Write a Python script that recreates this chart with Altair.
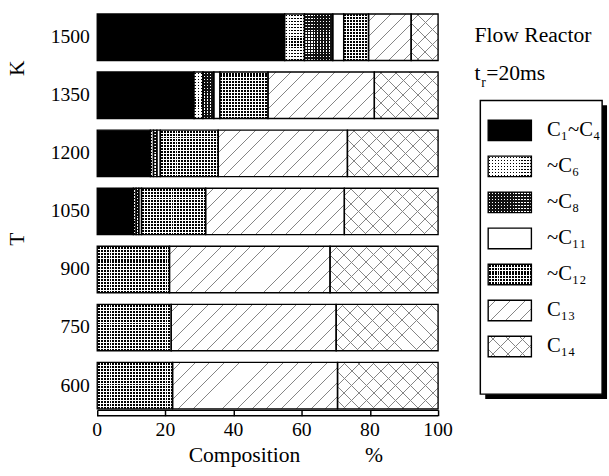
import altair as alt

# ---------------- data ----------------
temps = ["1500", "1350", "1200", "1050", "900", "750", "600"]
series = ["C₁~C₄", "~C₆", "~C₈", "~C₁₁", "~C₁₂", "C₁₃", "C₁₄"]
c1_c4 = [55.0, 28.4, 15.6, 10.6, 0.0, 0.0, 0.0]
c6 = [5.8, 2.6, 0.9, 0.8, 0.0, 0.0, 0.0]
c8 = [8.3, 3.2, 1.0, 0.8, 0.0, 0.0, 0.0]
c11 = [3.2, 1.8, 1.0, 0.8, 0.0, 0.0, 0.0]
c12 = [7.3, 14.1, 17.0, 18.8, 21.2, 21.7, 22.1]
c13 = [12.5, 31.2, 37.9, 40.7, 47.1, 48.4, 48.4]
c14 = [7.9, 18.7, 26.6, 27.5, 31.7, 29.9, 29.5]
x_ticks = [0, 20, 40, 60, 80, 100]

# ---------------- layout / style ----------------
PW, PH = 347, 413
PAD_IN = 0.2
BARS_SPAN = 402.0  # from top of first bar to bottom of last bar
STEP = BARS_SPAN / (len(temps) - PAD_IN)
OUTER = PH - BARS_SPAN
PAD_OUT = OUTER / 2 / STEP
ALIGN = 10.0 / OUTER
BAR_H = STEP * (1 - PAD_IN)
FONT = "Liberation Serif"
CLEAR = "rgba(255,255,255,0)"
SW_W, SW_H = 44, 21  # legend swatch size
HATCH = "#858585"


def band_stops(total, spacing, width, fg, bg, offset):
    stops = [{"offset": 0.0, "color": bg}]
    pos = offset
    while pos < total:
        a = round(max(pos, 0.0) / total, 5)
        b = round(min(pos + width, total) / total, 5)
        stops += [{"offset": a, "color": bg}, {"offset": a, "color": fg},
                  {"offset": b, "color": fg}, {"offset": b, "color": bg}]
        pos += spacing
    stops.append({"offset": 1.0, "color": bg})
    return stops


def lin(x2, y2, stops, x1=0.0, y1=0.0):
    return {"gradient": "linear", "x1": x1, "y1": y1, "x2": x2, "y2": y2,
            "stops": stops}


def dots(W, H, spacing, size, fg, bg):
    off = spacing / 2 - size / 2
    cols = lin(1.0, 0.0, band_stops(W, spacing, size, fg, bg, off))
    rows = lin(0.0, 1.0, band_stops(H, spacing, size, CLEAR, bg, off))
    return cols, rows


def diag(W, H, spacing, lw, fg, bg, rising=True):
    p = (W + H) / (W * W + H * H)
    st = band_stops(W + H, spacing, lw * 1.414, fg, bg, spacing / 2)
    if rising:
        return lin(W * p, H * p, st)
    return lin(W * p, 1 - H * p, st, 0.0, 1.0)


def pattern(k, W, H):
    if k == 0:
        return "#000", CLEAR
    if k == 1:
        return dots(W, H, 3.0, 1.2, "#000", "#fff")
    if k == 2:
        return dots(W, H, 3.0, 1.4, "#fff", "#111")
    if k == 3:
        return "#fff", CLEAR
    if k == 4:
        return dots(W, H, 3.0, 2.0, "#000", "#fff")
    if k == 5:
        return diag(W, H, 15, 0.7, HATCH, "#fff", True), CLEAR
    return (diag(W, H, 15, 0.7, HATCH, "#fff", True),
            diag(W, H, 15, 0.7, HATCH, CLEAR, False))


cols = [c1_c4, c6, c8, c11, c12, c13, c14]
rows = []
for i, t in enumerate(temps):
    acc = 0.0
    for k, s in enumerate(series):
        v = cols[k][i]
        if v > 0:
            f0, f1 = pattern(k, v * PW / 100.0, BAR_H)
            rows.append({"T": t, "series": s, "start": round(acc, 3),
                         "end": round(acc + v, 3), "f0": f0, "f1": f1})
        acc += v

leg_rows = []
for k, s in enumerate(series):
    f0, f1 = pattern(k, SW_W, SW_H)
    leg_rows.append({"series": s, "f0": f0, "f1": f1})

# ---------------- main chart ----------------
base = alt.Chart(alt.Data(values=rows))
x_scale = alt.Scale(domain=[0, 100], nice=False, zero=False)
x_axis = alt.Axis(values=x_ticks, title="", labels=False,
                  domainColor="#000", domainWidth=1.5,
                  tickColor="#000", tickWidth=1.5, tickSize=6, grid=False)
x_enc = alt.X("start:Q", scale=x_scale, axis=x_axis)
y_enc = alt.Y(
    "T:N", sort=temps,
    scale=alt.Scale(paddingInner=PAD_IN, paddingOuter=PAD_OUT, align=ALIGN),
    axis=alt.Axis(title="T" + "\u00a0" * 29 + "K", titleFont=FONT,
                  titleFontSize=22, titleFontWeight="normal", titleColor="#000",
                  titleAngle=270, titleX=-82, titleY=151,
                  titleBaseline="middle", titleAlign="center",
                  labelFont=FONT, labelFontSize=20, labelColor="#000",
                  labelPadding=8, domain=False, ticks=False, grid=False),
)
under = base.mark_bar(strokeWidth=0).encode(
    x=x_enc, x2="end:Q", y=y_enc, fill=alt.Fill("f0:N", scale=None))
over = base.mark_bar(stroke="#000", strokeWidth=1.4).encode(
    x=x_enc, x2="end:Q", y=y_enc,
    fill=alt.Fill("f1:N", scale=None))
ruler = alt.Chart(alt.Data(values=[{}])).mark_rule(
    color="#000", strokeWidth=1.5).encode(
    x=alt.value(0), x2=alt.value(PW), y=alt.value(PH + 6))
tick_labels = alt.Chart(alt.Data(values=[{"v": v} for v in x_ticks])).mark_text(
    baseline="alphabetic", align="center", font=FONT, fontSize=20,
    color="#000").encode(
    x=alt.X("v:Q", scale=x_scale, axis=x_axis),
    y=alt.value(PH + 27), text="v:Q")
x_title = alt.Chart(alt.Data(values=[{}])).mark_text(
    baseline="alphabetic", align="center", font=FONT, fontSize=22,
    color="#000").encode(
    x=alt.value(192), y=alt.value(PH + 53),
    text=alt.value("Composition" + "\u00a0" * 12 + "%"))
main = alt.layer(under, over, ruler, tick_labels, x_title).properties(
    width=PW, height=PH)

# ---------------- legend panel ----------------
one = alt.Data(values=[{}])
leg_y = alt.Y("series:N", sort=series,
              scale=alt.Scale(range=[118, 359], paddingInner=0.43,
                              paddingOuter=0), axis=None)
shadow = alt.Chart(one).mark_rect(color="#000").encode(
    x=alt.value(24), x2=alt.value(148), y=alt.value(103), y2=alt.value(402))
box = alt.Chart(one).mark_rect(fill="#fff", stroke="#000",
                               strokeWidth=1.5).encode(
    x=alt.value(19), x2=alt.value(143), y=alt.value(98), y2=alt.value(397))
lbase = alt.Chart(alt.Data(values=leg_rows))
sw0 = lbase.mark_rect(strokeWidth=0).encode(
    x=alt.value(27), x2=alt.value(71), y=leg_y,
    fill=alt.Fill("f0:N", scale=None))
sw1 = lbase.mark_rect(stroke="#000", strokeWidth=1.4).encode(
    x=alt.value(27), x2=alt.value(71), y=leg_y,
    fill=alt.Fill("f1:N", scale=None))
labels = lbase.mark_text(align="left", baseline="middle", font=FONT,
                         fontSize=21, color="#000").encode(
    x=alt.value(87), y=leg_y, text="series:N")
t1 = alt.Chart(one).mark_text(align="left", baseline="alphabetic", font=FONT,
                              fontSize=22, color="#000").encode(
    x=alt.value(13), y=alt.value(39), text=alt.value("Flow Reactor"))
t2 = alt.Chart(one).mark_text(align="left", baseline="alphabetic", font=FONT,
                              fontSize=22, color="#000").encode(
    x=alt.value(13), y=alt.value(77), text=alt.value("t"))
t3 = alt.Chart(one).mark_text(align="left", baseline="alphabetic", font=FONT,
                              fontSize=14, color="#000").encode(
    x=alt.value(20), y=alt.value(84), text=alt.value("r"))
t4 = alt.Chart(one).mark_text(align="left", baseline="alphabetic", font=FONT,
                              fontSize=22, color="#000").encode(
    x=alt.value(25), y=alt.value(77), text=alt.value("=20ms"))
legend = alt.layer(shadow, box, sw0, sw1, labels, t1, t2, t3, t4).properties(
    width=150, height=PH)

chart = alt.hconcat(main, legend, spacing=9).configure(
    font=FONT,
).configure_view(strokeWidth=0).configure_axis(
    labelFont=FONT, titleFont=FONT, labelColor="#000", titleColor="#000",
    titleFontWeight="normal"
).properties(
    padding={"left": 6, "top": 0, "right": 0, "bottom": 0})

chart.save("out.html", embed_options={"renderer": "svg", "actions": False})
